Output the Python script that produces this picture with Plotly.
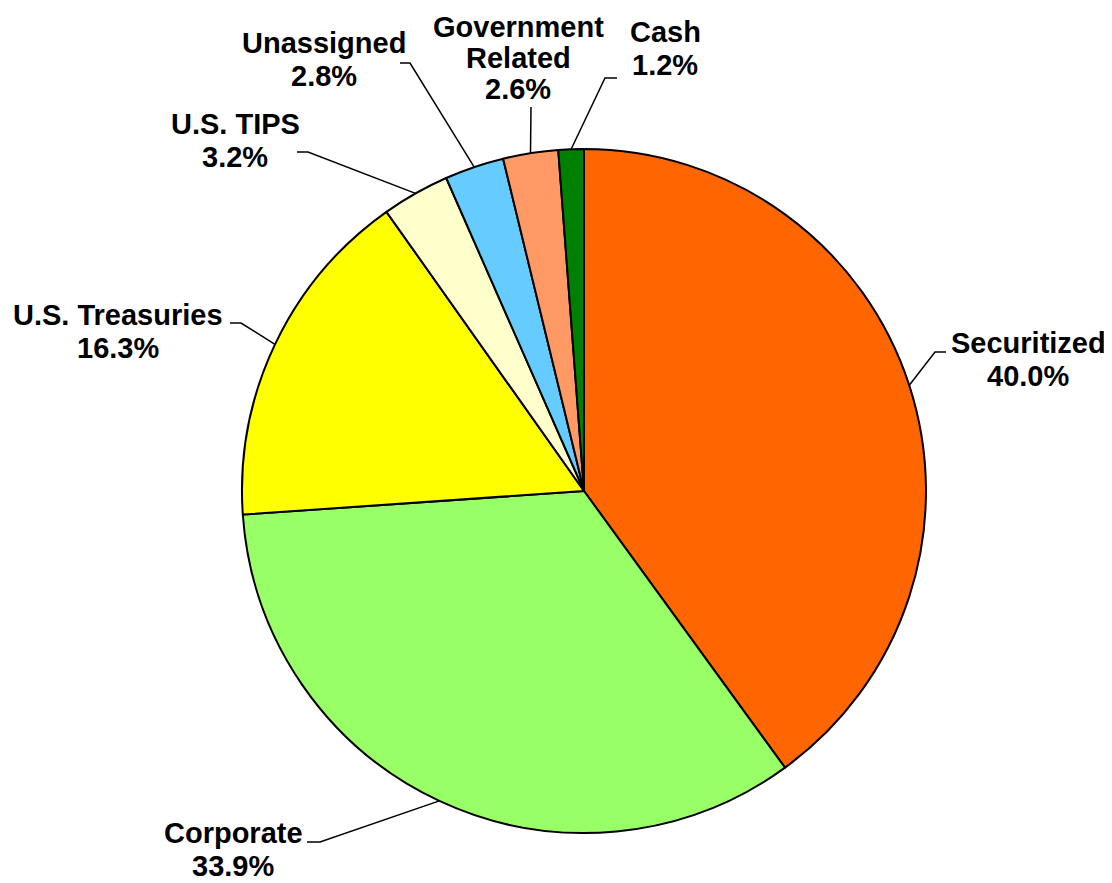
import math
import plotly.graph_objects as go

# ---- data ----
categories = ["Securitized", "Corporate", "U.S. Treasuries", "U.S. TIPS",
              "Unassigned", "Government Related", "Cash"]
values = [40.0, 33.9, 16.3, 3.2, 2.8, 2.6, 1.2]
label_lines = [["Securitized"], ["Corporate"], ["U.S. Treasuries"], ["U.S. TIPS"],
               ["Unassigned"], ["Government", "Related"], ["Cash"]]

# ---- style / layout ----
colors = ["#FF6600", "#99FF66", "#FFFF00", "#FFFFCC", "#66CCFF", "#FF9966", "#008000"]
W, H = 1112, 883
OFF = 8  # page body margin
CX, CY, R = 584, 491, 342
# text center x, first line center y, line gap (pixels, screen)
label_pos = [(1028, 343, 33), (233, 833, 33), (118, 315, 33), (235, 124, 33),
             (324, 43, 33), (518, 27, 31), (665, 32, 33)]
# leader knee: (outer x, inner x, y) in pixels
knees = [(946, 935, 352), (307, 320, 842), (230, 241, 323), (297, 308, 152),
         (400, 410, 63), (531, 531, 107), (617, 605, 78)]
FONT = dict(family="Liberation Sans, Arial, sans-serif", size=29, color="black", weight="bold")


def px(x):
    return (x - OFF) / W


def py(y):
    return 1 - (y - OFF) / H


fig = go.Figure(go.Pie(
    labels=categories, values=values, sort=False, direction="clockwise", rotation=0,
    marker=dict(colors=colors, line=dict(color="black", width=2)),
    textinfo="none", hoverinfo="label+percent", showlegend=False,
    domain=dict(x=[px(CX - R), px(CX + R)], y=[py(CY + R), py(CY - R)]),
))

total = sum(values)
cum = 0.0
shapes, annotations = [], []
for i, v in enumerate(values):
    mid = (cum + v / 2) / total
    cum += v
    ang = 2 * math.pi * mid
    ex, ey = CX + R * math.sin(ang), CY - R * math.cos(ang)
    ox, ix, ky = knees[i]
    shapes.append(dict(
        type="path", xref="paper", yref="paper",
        path=f"M {px(ox)},{py(ky)} L {px(ix)},{py(ky)} L {px(ex)},{py(ey)}",
        line=dict(color="black", width=1.5)))
    lines = label_lines[i] + [f"{v:.1f}%"]
    tx, ty, gap = label_pos[i]
    for j, t in enumerate(lines):
        annotations.append(dict(
            text=t, x=px(tx), y=py(ty + j * gap), xref="paper", yref="paper",
            xanchor="center", yanchor="middle", showarrow=False, font=FONT))

fig.update_layout(
    width=W, height=H, margin=dict(l=0, r=0, t=0, b=0),
    paper_bgcolor="white", plot_bgcolor="white",
    shapes=shapes, annotations=annotations,
)

fig.write_html("out.html")
